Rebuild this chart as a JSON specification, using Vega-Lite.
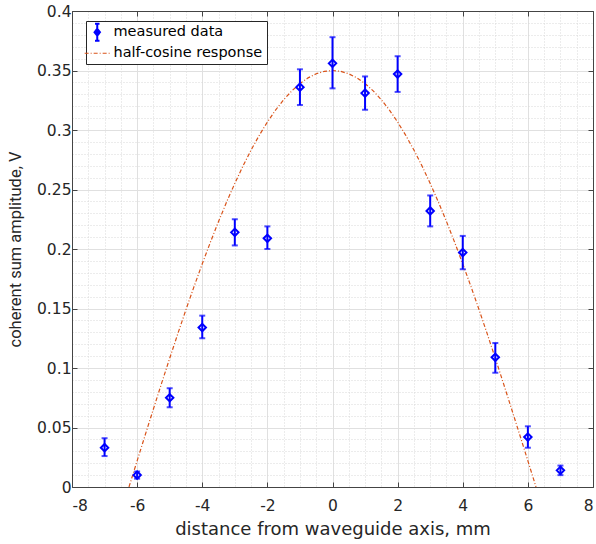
{
  "$schema": "https://vega.github.io/schema/vega-lite/v6.json",
  "width": 521,
  "height": 476,
  "autosize": {"type": "none"},
  "padding": {"left": 72, "top": 11, "right": 3, "bottom": 57},
  "background": "white",
  "config": {
    "font": "DejaVu Sans",
    "view": {"stroke": null},
    "axis": {"labelFont": "DejaVu Sans", "titleFont": "DejaVu Sans", "labelColor": "#262626", "titleColor": "#262626", "titleFontWeight": "normal", "labelFontSize": 15.5, "titleFontSize": 18}
  },
  "datasets": {
    "meas": [
      {"x": -7, "y": 0.033, "lo": 0.026, "hi": 0.041, "series": "measured data"},
      {"x": -6, "y": 0.010, "lo": 0.007, "hi": 0.013, "series": "measured data"},
      {"x": -5, "y": 0.075, "lo": 0.067, "hi": 0.083, "series": "measured data"},
      {"x": -4, "y": 0.134, "lo": 0.125, "hi": 0.144, "series": "measured data"},
      {"x": -3, "y": 0.214, "lo": 0.203, "hi": 0.225, "series": "measured data"},
      {"x": -2, "y": 0.209, "lo": 0.200, "hi": 0.219, "series": "measured data"},
      {"x": -1, "y": 0.336, "lo": 0.321, "hi": 0.351, "series": "measured data"},
      {"x": 0, "y": 0.356, "lo": 0.335, "hi": 0.378, "series": "measured data"},
      {"x": 1, "y": 0.331, "lo": 0.317, "hi": 0.345, "series": "measured data"},
      {"x": 2, "y": 0.347, "lo": 0.332, "hi": 0.362, "series": "measured data"},
      {"x": 3, "y": 0.232, "lo": 0.219, "hi": 0.245, "series": "measured data"},
      {"x": 4, "y": 0.197, "lo": 0.183, "hi": 0.211, "series": "measured data"},
      {"x": 5, "y": 0.109, "lo": 0.096, "hi": 0.121, "series": "measured data"},
      {"x": 6, "y": 0.042, "lo": 0.033, "hi": 0.051, "series": "measured data"},
      {"x": 7, "y": 0.014, "lo": 0.010, "hi": 0.018, "series": "measured data"}
    ],
    "curve": [
      {"x": -6.25, "y": 0.0, "series": "half-cosine response"},
      {"x": -6.0, "y": 0.02198, "series": "half-cosine response"},
      {"x": -5.75, "y": 0.04387, "series": "half-cosine response"},
      {"x": -5.5, "y": 0.06558, "series": "half-cosine response"},
      {"x": -5.25, "y": 0.08704, "series": "half-cosine response"},
      {"x": -5.0, "y": 0.10816, "series": "half-cosine response"},
      {"x": -4.75, "y": 0.12884, "series": "half-cosine response"},
      {"x": -4.5, "y": 0.14902, "series": "half-cosine response"},
      {"x": -4.25, "y": 0.16861, "series": "half-cosine response"},
      {"x": -4.0, "y": 0.18754, "series": "half-cosine response"},
      {"x": -3.75, "y": 0.20572, "series": "half-cosine response"},
      {"x": -3.5, "y": 0.2231, "series": "half-cosine response"},
      {"x": -3.25, "y": 0.23959, "series": "half-cosine response"},
      {"x": -3.0, "y": 0.25514, "series": "half-cosine response"},
      {"x": -2.75, "y": 0.26968, "series": "half-cosine response"},
      {"x": -2.5, "y": 0.28316, "series": "half-cosine response"},
      {"x": -2.25, "y": 0.29551, "series": "half-cosine response"},
      {"x": -2.0, "y": 0.30671, "series": "half-cosine response"},
      {"x": -1.75, "y": 0.31669, "series": "half-cosine response"},
      {"x": -1.5, "y": 0.32542, "series": "half-cosine response"},
      {"x": -1.25, "y": 0.33287, "series": "half-cosine response"},
      {"x": -1.0, "y": 0.339, "series": "half-cosine response"},
      {"x": -0.75, "y": 0.3438, "series": "half-cosine response"},
      {"x": -0.5, "y": 0.34724, "series": "half-cosine response"},
      {"x": -0.25, "y": 0.34931, "series": "half-cosine response"},
      {"x": 0.0, "y": 0.35, "series": "half-cosine response"},
      {"x": 0.25, "y": 0.34931, "series": "half-cosine response"},
      {"x": 0.5, "y": 0.34724, "series": "half-cosine response"},
      {"x": 0.75, "y": 0.3438, "series": "half-cosine response"},
      {"x": 1.0, "y": 0.339, "series": "half-cosine response"},
      {"x": 1.25, "y": 0.33287, "series": "half-cosine response"},
      {"x": 1.5, "y": 0.32542, "series": "half-cosine response"},
      {"x": 1.75, "y": 0.31669, "series": "half-cosine response"},
      {"x": 2.0, "y": 0.30671, "series": "half-cosine response"},
      {"x": 2.25, "y": 0.29551, "series": "half-cosine response"},
      {"x": 2.5, "y": 0.28316, "series": "half-cosine response"},
      {"x": 2.75, "y": 0.26968, "series": "half-cosine response"},
      {"x": 3.0, "y": 0.25514, "series": "half-cosine response"},
      {"x": 3.25, "y": 0.23959, "series": "half-cosine response"},
      {"x": 3.5, "y": 0.2231, "series": "half-cosine response"},
      {"x": 3.75, "y": 0.20572, "series": "half-cosine response"},
      {"x": 4.0, "y": 0.18754, "series": "half-cosine response"},
      {"x": 4.25, "y": 0.16861, "series": "half-cosine response"},
      {"x": 4.5, "y": 0.14902, "series": "half-cosine response"},
      {"x": 4.75, "y": 0.12884, "series": "half-cosine response"},
      {"x": 5.0, "y": 0.10816, "series": "half-cosine response"},
      {"x": 5.25, "y": 0.08704, "series": "half-cosine response"},
      {"x": 5.5, "y": 0.06558, "series": "half-cosine response"},
      {"x": 5.75, "y": 0.04387, "series": "half-cosine response"},
      {"x": 6.0, "y": 0.02198, "series": "half-cosine response"},
      {"x": 6.25, "y": 0.0, "series": "half-cosine response"}
    ]
  },
  "layer": [
    {
      "data": {"name": "curve"},
      "mark": {"type": "line", "strokeWidth": 1.2, "strokeDash": [4, 2, 1, 2], "clip": true},
      "encoding": {
        "x": {"field": "x", "type": "quantitative", "scale": {"domain": [-8, 8], "nice": false, "zero": false},
          "axis": {"orient": "bottom", "values": [-8,-7.5,-7,-6.5,-6,-5.5,-5,-4.5,-4,-3.5,-3,-2.5,-2,-1.5,-1,-0.5,0,0.5,1,1.5,2,2.5,3,3.5,4,4.5,5,5.5,6,6.5,7,7.5,8], "grid": true, "gridDash": [1, 2], "gridColor": "#d8d8d8", "gridWidth": 1, "labels": false, "ticks": false, "domain": false, "title": null}},
        "y": {"field": "y", "type": "quantitative", "scale": {"domain": [0, 0.4], "nice": false, "zero": true},
          "axis": {"orient": "left", "values": [0,0.01,0.02,0.03,0.04,0.05,0.06,0.07,0.08,0.09,0.1,0.11,0.12,0.13,0.14,0.15,0.16,0.17,0.18,0.19,0.2,0.21,0.22,0.23,0.24,0.25,0.26,0.27,0.28,0.29,0.3,0.31,0.32,0.33,0.34,0.35,0.36,0.37,0.38,0.39,0.4], "grid": true, "gridDash": [1, 2], "gridColor": "#d8d8d8", "gridWidth": 1, "labels": false, "ticks": false, "domain": false, "title": null}},
        "color": {"field": "series", "type": "nominal",
          "scale": {"domain": ["measured data", "half-cosine response"], "range": ["#0000ff", "#d95319"]},
          "legend": {"orient": "none", "legendX": 14, "legendY": 10, "title": null, "strokeColor": "#262626", "fillColor": "white", "padding": 4, "labelFontSize": 14.5, "labelFont": "DejaVu Sans", "labelColor": "#000000", "symbolSize": 324, "symbolType": "stroke", "rowPadding": 0, "labelOffset": 9, "symbolStrokeWidth": 1.2,
            "encode": {"symbols": {"update": {
              "shape": {"signal": "datum.value === 'measured data' ? 'M0,-0.95L0,0.95M-0.25,-0.95L0.25,-0.95M-0.25,0.95L0.25,0.95M0,-0.38L0.3,0L0,0.38L-0.3,0Z' : 'M-1.4,0L1.4,0'"},
              "fill": {"signal": "datum.value === 'measured data' ? '#0000ff' : 'transparent'"},
              "strokeDash": {"signal": "datum.value === 'measured data' ? [1,0] : [4,2,1,2]"},
              "strokeWidth": {"signal": "datum.value === 'measured data' ? 2 : 1.2"}
            }}}}
        }
      }
    },
    {
      "data": {"name": "meas"},
      "mark": {"type": "rule", "color": "#0000ff", "strokeWidth": 2},
      "encoding": {
        "x": {"field": "x", "type": "quantitative",
          "axis": {"orient": "bottom", "values": [-8,-6,-4,-2,0,2,4,6,8], "labelExpr": "'' + datum.value", "grid": true, "gridColor": "#e0e0e0", "gridWidth": 1, "ticks": true, "tickSize": -5, "tickColor": "#444444", "domain": true, "domainColor": "#444444", "labelPadding": 16, "title": "distance from waveguide axis, mm", "titlePadding": 7}},
        "y": {"field": "lo", "type": "quantitative",
          "axis": {"orient": "left", "values": [0,0.05,0.1,0.15,0.2,0.25,0.3,0.35,0.4], "labelExpr": "'' + datum.value", "grid": true, "gridColor": "#e0e0e0", "gridWidth": 1, "ticks": true, "tickSize": -5, "tickColor": "#444444", "domain": true, "domainColor": "#444444", "labelPadding": 6, "title": "coherent sum amplitude, V", "titleFont": "Roboto", "titleFontSize": 16.5, "titlePadding": 13}},
        "y2": {"field": "hi"}
      }
    },
    {
      "data": {"name": "meas"},
      "mark": {"type": "tick", "orient": "horizontal", "color": "#0000ff", "size": 6, "thickness": 2},
      "encoding": {
        "x": {"field": "x", "type": "quantitative", "axis": null},
        "y": {"field": "lo", "type": "quantitative", "axis": null}
      }
    },
    {
      "data": {"name": "meas"},
      "mark": {"type": "tick", "orient": "horizontal", "color": "#0000ff", "size": 6, "thickness": 2},
      "encoding": {
        "x": {"field": "x", "type": "quantitative", "axis": null},
        "y": {"field": "hi", "type": "quantitative", "axis": null}
      }
    },
    {
      "data": {"name": "meas"},
      "mark": {"type": "point", "shape": "diamond", "filled": false, "strokeWidth": 2, "size": 55, "opacity": 1},
      "encoding": {
        "x": {"field": "x", "type": "quantitative",
          "axis": {"orient": "top", "values": [-8,-6,-4,-2,0,2,4,6,8], "labels": false, "grid": false, "ticks": true, "tickSize": -5, "tickColor": "#444444", "domain": true, "domainColor": "#444444", "title": null}},
        "y": {"field": "y", "type": "quantitative",
          "axis": {"orient": "right", "values": [0,0.05,0.1,0.15,0.2,0.25,0.3,0.35,0.4], "labels": false, "grid": false, "ticks": true, "tickSize": -5, "tickColor": "#444444", "domain": true, "domainColor": "#444444", "title": null}},
        "color": {"field": "series", "type": "nominal",
          "scale": {"domain": ["measured data", "half-cosine response"], "range": ["#0000ff", "#d95319"]},
          "legend": {"orient": "none", "legendX": 14, "legendY": 10, "title": null, "strokeColor": "#262626", "fillColor": "white", "padding": 4, "labelFontSize": 14.5, "labelFont": "DejaVu Sans", "labelColor": "#000000", "symbolSize": 324, "symbolType": "stroke", "rowPadding": 0, "labelOffset": 9, "symbolStrokeWidth": 1.2,
            "encode": {"symbols": {"update": {
              "shape": {"signal": "datum.value === 'measured data' ? 'M0,-0.95L0,0.95M-0.25,-0.95L0.25,-0.95M-0.25,0.95L0.25,0.95M0,-0.38L0.3,0L0,0.38L-0.3,0Z' : 'M-1.4,0L1.4,0'"},
              "fill": {"signal": "datum.value === 'measured data' ? '#0000ff' : 'transparent'"},
              "strokeDash": {"signal": "datum.value === 'measured data' ? [1,0] : [4,2,1,2]"},
              "strokeWidth": {"signal": "datum.value === 'measured data' ? 2 : 1.2"}
            }}}}
        }
      }
    }
  ],
  "resolve": {"axis": {"x": "independent", "y": "independent"}}
}
